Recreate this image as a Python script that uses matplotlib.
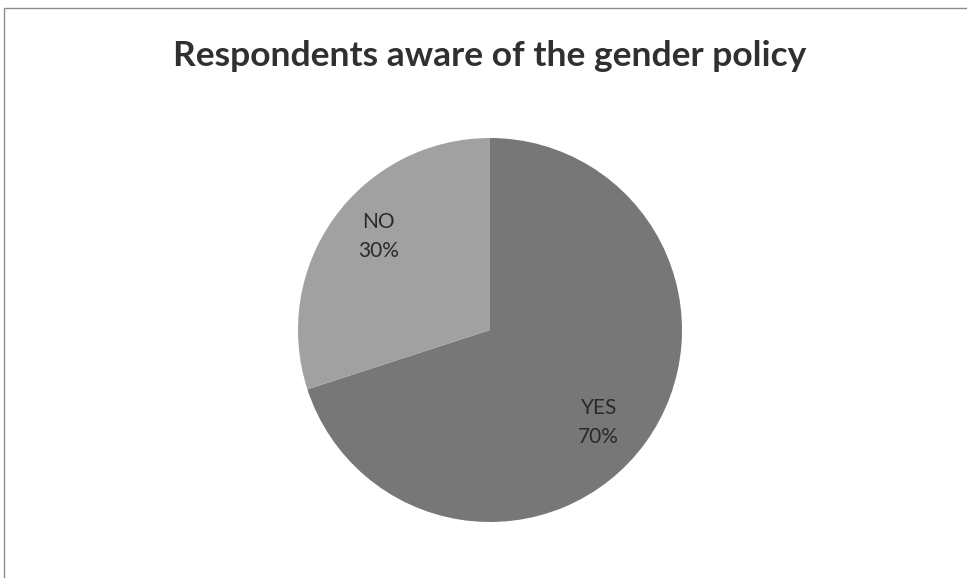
import numpy as np
import matplotlib.pyplot as plt
from matplotlib.patches import Rectangle

# data
categories = ['YES', 'NO']
shares = [70, 30]
colors = ['#777777', '#a1a1a1']

W, H = 967, 578
fig = plt.figure(figsize=(W / 100, H / 100), dpi=100)
fig.patch.set_facecolor('white')

# chart border (left and top visible)
fig.add_artist(Rectangle((4 / W, -0.01), 1.0, (H - 8) / H + 0.01, transform=fig.transFigure,
                         fill=False, edgecolor='#8c8c8c', linewidth=1.0))

# pie area: center (490, 330), radius 192 px
cx, cy, r = 490, 330, 192
ax = fig.add_axes([(cx - r) / W, (H - cy - r) / H, 2 * r / W, 2 * r / H])
wedges, _ = ax.pie(shares, colors=colors, startangle=90, counterclock=False, radius=1.0,
                   wedgeprops=dict(linewidth=0))
ax.set_xlim(-1, 1)
ax.set_ylim(-1, 1)
ax.set_aspect('equal')
ax.axis('off')

# label offsets along each wedge's mid angle
label_dist = [0.745, 0.76]
label_shift = [-4.5, -4.0]   # degrees, Excel best-fit placement
for w, cat, val, d, s in zip(wedges, categories, shares, label_dist, label_shift):
    mid = np.deg2rad((w.theta1 + w.theta2) / 2 + s)
    ax.text(d * np.cos(mid), d * np.sin(mid), f'{cat}\n{val}%', ha='center', va='center',
            fontsize=15, family='Lato', color='#2a2a2a', linespacing=1.55)

fig.text(490 / W, 1 - 56 / H, 'Respondents aware of the gender policy', ha='center', va='center',
         fontsize=25.5, fontweight='bold', family='Lato', color='#303030')

fig.savefig('out.png', dpi=100)
